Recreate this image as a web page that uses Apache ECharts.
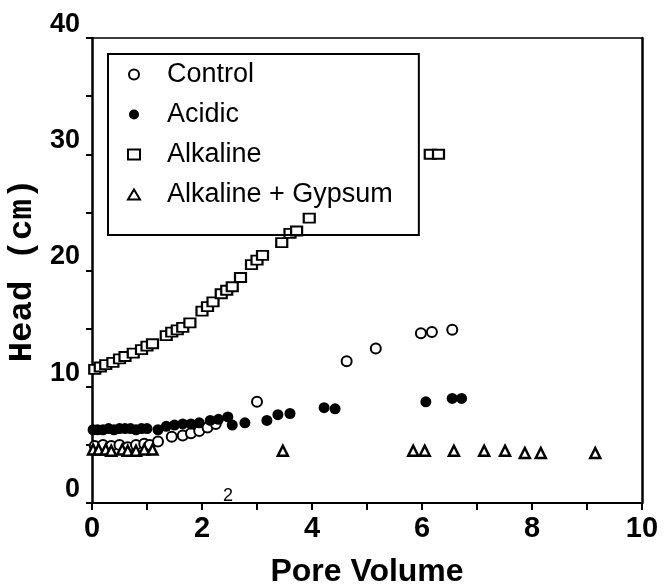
<!DOCTYPE html>
<html>
<head>
<meta charset="utf-8">
<script src="https://cdn.jsdelivr.net/npm/echarts@6/dist/echarts.min.js"></script>
<style>
  html, body { margin: 0; padding: 0; background: #fff; }
  #chart { width: 666px; height: 586px; }
</style>
</head>
<body>
<div id="chart"></div>
<script>
// [pore volume, head]
const control = [
  [0.05, 4.9], [0.2, 5.0], [0.35, 4.9], [0.5, 5.0], [0.65, 4.8], [0.8, 5.0], [0.95, 5.1], [1.05, 5.0],
  [1.2, 5.3], [1.45, 5.7], [1.65, 5.8], [1.8, 6.0], [1.95, 6.2], [2.1, 6.5], [2.25, 6.8],
  [3.0, 8.7], [4.63, 12.2], [5.16, 13.3], [5.98, 14.6], [6.18, 14.7], [6.55, 14.9]
];
const acidic = [
  [0.02, 6.3], [0.1, 6.3], [0.2, 6.3], [0.3, 6.4], [0.4, 6.3], [0.5, 6.4], [0.6, 6.4], [0.7, 6.4],
  [0.8, 6.3], [0.9, 6.4], [1.0, 6.4], [1.2, 6.3], [1.35, 6.6], [1.5, 6.7], [1.65, 6.8], [1.8, 6.8],
  [1.95, 6.9], [2.15, 7.1], [2.3, 7.2], [2.47, 7.4], [2.55, 6.7], [2.78, 6.9], [3.18, 7.1],
  [3.38, 7.6], [3.6, 7.7], [4.22, 8.2], [4.42, 8.1], [6.07, 8.7], [6.55, 9.0], [6.72, 9.0]
];
const alkaline = [
  [0.05, 11.5], [0.15, 11.7], [0.25, 11.9], [0.38, 12.1], [0.5, 12.4], [0.6, 12.6], [0.75, 12.9],
  [0.9, 13.2], [1.0, 13.5], [1.1, 13.7], [1.35, 14.4], [1.45, 14.7], [1.55, 14.9], [1.65, 15.1],
  [1.78, 15.5], [2.0, 16.5], [2.1, 16.9], [2.2, 17.3], [2.35, 18.0], [2.45, 18.3], [2.55, 18.6],
  [2.7, 19.4], [2.9, 20.5], [3.0, 20.9], [3.1, 21.3], [3.45, 22.4], [3.6, 23.2], [3.72, 23.4],
  [3.95, 24.5], [6.15, 30], [6.3, 30]
];
const gypsum = [
  [0.02, 4.6], [0.12, 4.6], [0.25, 4.6], [0.35, 4.5], [0.55, 4.6], [0.65, 4.5], [0.8, 4.5],
  [0.95, 4.6], [1.1, 4.6], [3.47, 4.5], [5.84, 4.5], [6.05, 4.5], [6.58, 4.5], [7.13, 4.5],
  [7.51, 4.5], [7.87, 4.3], [8.16, 4.3], [9.15, 4.3]
];
const seriesNames = ['Control', 'Acidic', 'Alkaline', 'Alkaline + Gypsum'];

const chart = echarts.init(document.getElementById('chart'));

const openStyle = { color: '#fff', borderColor: '#000', borderWidth: 2, opacity: 1 };

const option = {
  animation: false,
  grid: { left: 92, right: 24, top: 38, bottom: 83, containLabel: false, outerBoundsMode: 'none' },
  legend: {
    data: seriesNames,
    orient: 'vertical',
    left: 108,
    top: 54,
    itemWidth: 12,
    itemHeight: 10,
    itemGap: 13,
    padding: [7, 26, 27, 19],
    borderColor: '#000',
    borderWidth: 2,
    textStyle: {
      fontFamily: 'Liberation Sans, Arial, sans-serif',
      fontSize: 27,
      lineHeight: 26,
      color: '#000',
      padding: [0, 0, 0, 22]
    }
  },
  xAxis: [
    {
      type: 'value', min: 0, max: 10, interval: 2,
      name: 'Pore Volume', nameLocation: 'middle', nameGap: 53,
      nameTextStyle: { fontFamily: 'Liberation Sans, Arial, sans-serif', fontWeight: 'bold', fontSize: 32, color: '#000' },
      axisLine: { show: true, onZero: false, lineStyle: { color: '#000', width: 2 } },
      axisTick: { show: true, length: 7, lineStyle: { color: '#000', width: 2 } },
      minorTick: { show: true, splitNumber: 2, length: 7, lineStyle: { color: '#000', width: 2 } },
      splitLine: { show: false },
      axisLabel: { fontFamily: 'Liberation Sans, Arial, sans-serif', fontWeight: 'bold', fontSize: 29, color: '#000', margin: 11 }
    },
    {
      type: 'value', min: 0, max: 10, position: 'top',
      axisLine: { show: true, onZero: false, lineStyle: { color: '#000', width: 1.5 } },
      axisTick: { show: false }, axisLabel: { show: false }, splitLine: { show: false }
    }
  ],
  yAxis: [
    {
      type: 'value', min: 0, max: 40, interval: 10,
      name: 'Head (cm)', nameLocation: 'middle', nameGap: 52, nameRotate: 90,
      nameTextStyle: { fontFamily: 'Liberation Mono, Courier New, monospace', fontWeight: 'bold', fontSize: 34, color: '#000' },
      axisLine: { show: true, onZero: false, lineStyle: { color: '#000', width: 2.5 } },
      axisTick: { show: true, length: 6, lineStyle: { color: '#000', width: 2 } },
      minorTick: { show: true, splitNumber: 2, length: 6, lineStyle: { color: '#000', width: 2 } },
      splitLine: { show: false },
      axisLabel: { fontFamily: 'Liberation Sans, Arial, sans-serif', fontWeight: 'bold', fontSize: 27, color: '#000', margin: 12, verticalAlign: 'bottom' }
    },
    {
      type: 'value', min: 0, max: 40, position: 'right',
      axisLine: { show: true, onZero: false, lineStyle: { color: '#000', width: 2.5 } },
      axisTick: { show: false }, axisLabel: { show: false }, splitLine: { show: false }
    }
  ],
  graphic: [
    { type: 'text', left: 223, top: 487, style: { text: '2', fontFamily: 'Liberation Sans, Arial, sans-serif', fontSize: 18, fill: '#000' } }
  ],
  series: [
    { name: seriesNames[0], type: 'scatter', data: control, symbol: 'circle', symbolSize: 10, itemStyle: openStyle },
    { name: seriesNames[1], type: 'scatter', data: acidic, symbol: 'circle', symbolSize: 11, itemStyle: { color: '#000', opacity: 1 } },
    { name: seriesNames[2], type: 'scatter', data: alkaline, symbol: 'rect', symbolSize: [11, 9], itemStyle: openStyle },
    { name: seriesNames[3], type: 'scatter', data: gypsum, symbol: 'triangle', symbolSize: 10, itemStyle: { color: '#fff', borderColor: '#000', borderWidth: 2.5, opacity: 1 } }
  ]
};

chart.setOption(option);

window.addEventListener('resize', function () {
  chart.resize();
});
</script>
</body>
</html>
